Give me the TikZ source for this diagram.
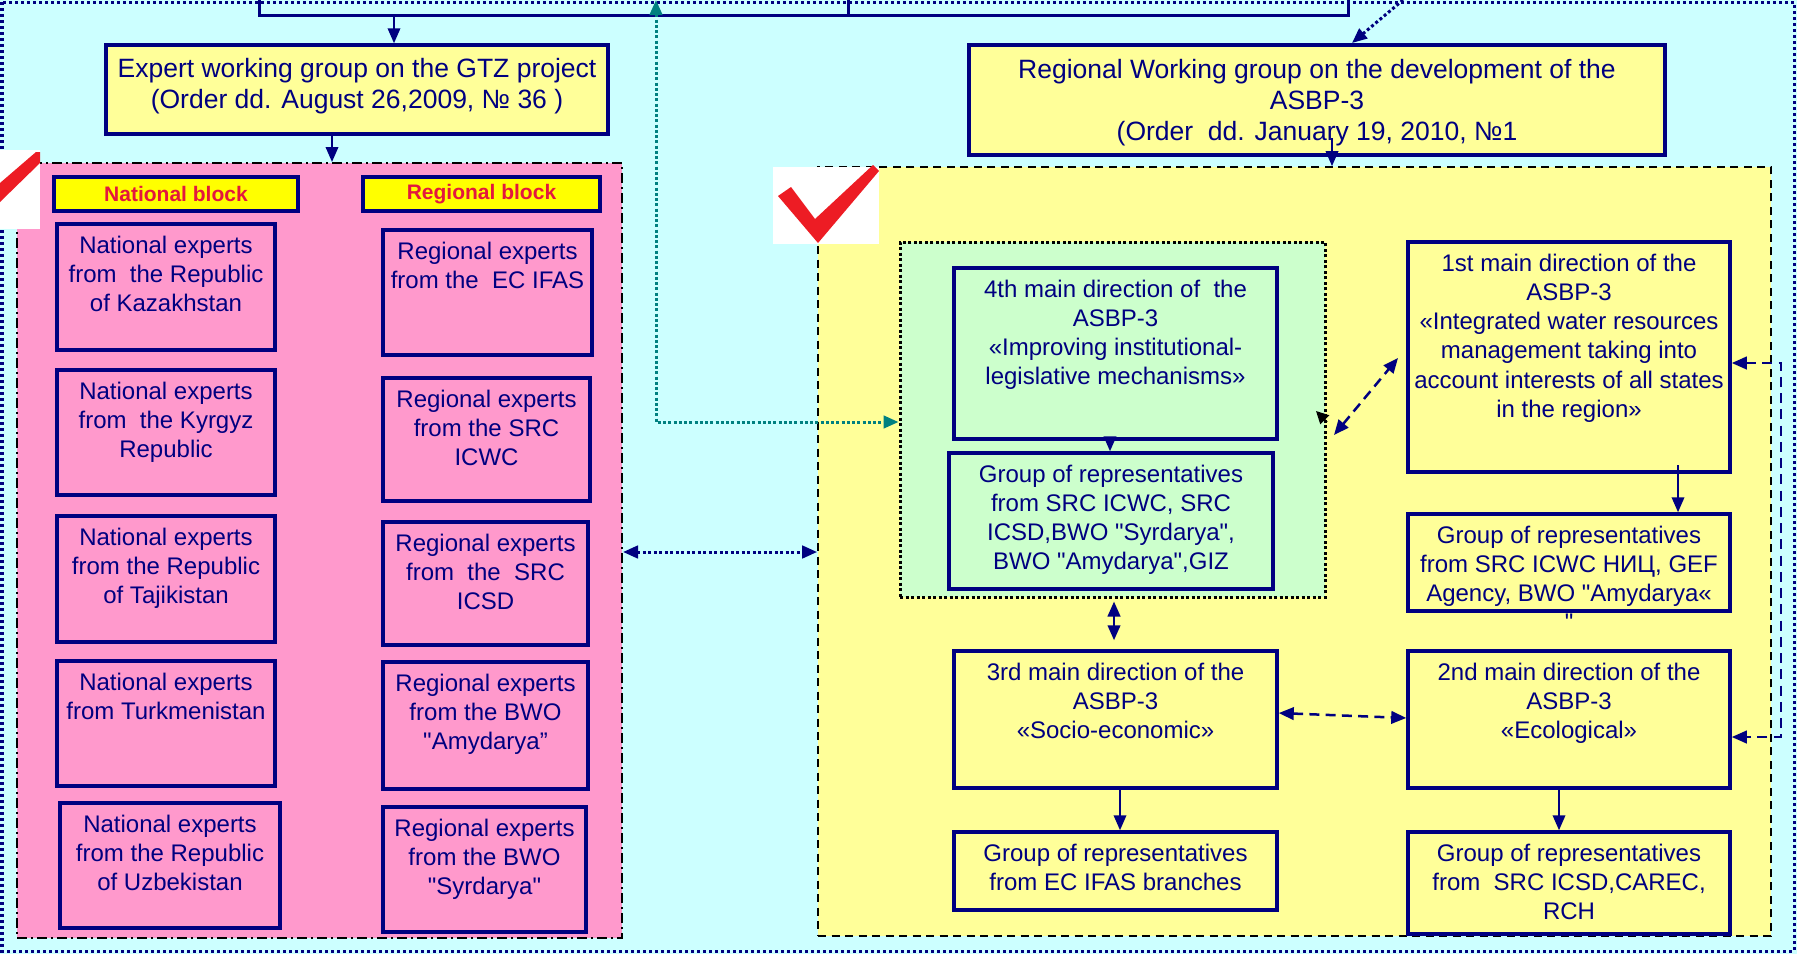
\documentclass[tikz,border=0pt]{standalone}
\usepackage{fontspec}
\setmainfont{Liberation Sans}[Ligatures=TeXOff]
\usetikzlibrary{arrows.meta,fit,calc}
\definecolor{navy}{HTML}{000080}
\definecolor{bgcyan}{HTML}{CCFFFF}
\definecolor{pinkbg}{HTML}{FF99CC}
\definecolor{ylw}{HTML}{FFFF99}
\definecolor{grn}{HTML}{CCFFCC}
\definecolor{lblyellow}{HTML}{FFFF00}
\definecolor{lblred}{HTML}{E3173E}
\definecolor{tealc}{HTML}{008080}
\definecolor{chkred}{HTML}{ED1C24}
\newcommand\bxt[7]{%
  \node[bx, fill=#6, fit={(#2,#3)(#4,#5)}] (#1) {};
  \node[txt, anchor=north] (#1t) at ([yshift=-5.2pt]#1.north) {#7};
}
\begin{document}
\begin{tikzpicture}[x=0.4pt,y=-0.4pt,
  bx/.style={draw=navy, line width=1.4pt, inner sep=0pt},
  txt/.style={text=navy, align=center, inner sep=0pt, font=\fontsize{9.6}{11.7}\selectfont},
  bigtxt/.style={text=navy, align=center, inner sep=0pt, font=\fontsize{10.6}{12.4}\selectfont},
  lbltxt/.style={text=lblred, inner sep=0pt, font=\bfseries\fontsize{8.4}{10}\selectfont},
  lbl/.style={draw=navy, line width=1.4pt, fill=lblyellow, inner sep=0pt},
  arr/.style={navy, line width=0.8pt, -{Triangle[length=6pt,width=5pt]}},
  dtip/.style={{Triangle[length=6pt,width=5pt]}-{Triangle[length=6pt,width=5pt]}},
  dotnavy/.style={navy, line width=1.2pt, dash pattern=on 1.2pt off 1pt},
  dotteal/.style={tealc, line width=1.2pt, dash pattern=on 1.2pt off 0.9pt},
  dashnavy/.style={navy, line width=1pt, dash pattern=on 4pt off 2.5pt},
]
\useasboundingbox (0,0) rectangle (1797,954);
\fill[bgcyan] (0,0) rectangle (1797,954);
\draw[navy, line width=1.2pt, dash pattern=on 1.2pt off 1.2pt] (2,2) rectangle (1794,951);

% big group areas
\node[draw=black, line width=0.8pt, dash pattern=on 4pt off 1.5pt on 1pt off 1.5pt, fill=pinkbg, inner sep=0pt, fit={(17,163)(622,938)}] (pink) {};
\node[draw=black, line width=0.7pt, dash pattern=on 3.2pt off 2.2pt, fill=ylw, inner sep=0pt, fit={(818,167)(1771,936)}] (yellow) {};
\node[draw=black, line width=1.2pt, dash pattern=on 1.2pt off 1pt, fill=grn, inner sep=0pt, fit={(900,242)(1325,597)}] (green) {};

% checkmarks
\fill[white] (0,150) rectangle (40,229);
\fill[chkred] (0,183) -- (36,152) -- (40,152) -- (40,163) -- (0,202) -- cycle;
\fill[white] (773,167) rectangle (879,244);
\fill[chkred] (778,196) -- (791,187) -- (815,219) -- (873,165) -- (879,171) -- (818,243) -- cycle;

% top boxes
\node[bx, fill=ylw, fit={(106,45)(608,134)}] (expert) {};
\node[bigtxt] (expertt) at ([yshift=1.4pt]expert.center) {Expert working group on the GTZ project\\(Order dd. August 26,2009, № 36 )};
\node[bx, fill=ylw, fit={(969,45)(1665,155)}] (regional) {};
\node[bigtxt] (regionalt) at ([yshift=-1.2pt]regional.center) {Regional Working group on the development of the\\ASBP-3\\(Order\ \ dd. January 19, 2010, №1};

% labels
\node[lbl, fit={(54,177)(298,211)}] (natlbl) {};
\node[lbltxt] (natlblt) at (natlbl.center) {National block};
\node[lbl, fit={(363,177)(600,211)}] (reglbl) {};
\node[lbltxt] (reglblt) at (reglbl.center) {Regional block};

% national block
\bxt{nat1}{57}{224}{275}{350}{pinkbg}{National experts\\from\ \ the Republic\\of Kazakhstan}
\bxt{nat2}{57}{370}{275}{495}{pinkbg}{National experts\\from\ \ the Kyrgyz\\Republic}
\bxt{nat3}{57}{516}{275}{642}{pinkbg}{National experts\\from the Republic\\of Tajikistan}
\bxt{nat4}{57}{661}{275}{786}{pinkbg}{National experts\\from Turkmenistan}
\bxt{nat5}{60}{803}{280}{928}{pinkbg}{National experts\\from the Republic\\of Uzbekistan}
% regional block
\bxt{reg1}{383}{230}{592}{355}{pinkbg}{Regional experts\\from the\ \ EC IFAS}
\bxt{reg2}{383}{378}{590}{501}{pinkbg}{Regional experts\\from the SRC\\ICWC}
\bxt{reg3}{383}{522}{588}{645}{pinkbg}{Regional experts\\from\ \ the\ \ SRC\\ICSD}
\bxt{reg4}{383}{662}{588}{789}{pinkbg}{Regional experts\\from the BWO\\"Amydarya”}
\bxt{reg5}{383}{807}{586}{932}{pinkbg}{Regional experts\\from the BWO\\"Syrdarya"}

% ASBP-3 directions
\bxt{fourth}{954}{268}{1277}{439}{grn}{4th main direction of\ \ the\\ASBP-3\\«Improving institutional-\\legislative mechanisms»}
\bxt{groupg}{949}{453}{1273}{589}{grn}{Group of representatives\\from SRC ICWC, SRC\\ICSD,BWO "Syrdarya",\\BWO "Amydarya",GIZ}
\bxt{first}{1408}{242}{1730}{472}{ylw}{1st main direction of the\\ASBP-3\\«Integrated water resources\\management taking into\\account interests of all states\\in the region»}
\bxt{group1}{1408}{514}{1730}{611}{ylw}{Group of representatives\\from SRC ICWC НИЦ, GEF\\Agency, BWO "Amydarya«\\"}
\bxt{third}{954}{651}{1277}{788}{ylw}{3rd main direction of the\\ASBP-3\\«Socio-economic»}
\bxt{second}{1408}{651}{1730}{788}{ylw}{2nd main direction of the\\ASBP-3\\«Ecological»}
\bxt{group3}{954}{832}{1277}{910}{ylw}{Group of representatives\\from EC IFAS branches}
\bxt{group2}{1408}{832}{1730}{934}{ylw}{Group of representatives\\from\ \ SRC ICSD,CAREC,\\RCH}

% coordinates for connectors
\coordinate (ta) at (259,0);
\coordinate (tb) at (848,0);
\coordinate (tc) at (1348,0);
\coordinate (tj) at (848,15);
\coordinate (xe) at (394,15);
\coordinate (xp) at (332,0);
\coordinate (xr) at (1332,138);
\coordinate (tealtop) at (656,0);
\coordinate (tealbend) at (656,422);
\coordinate (dtop) at (1403,0);
\coordinate (dtip) at (1352,43);
\coordinate (ymid) at (0,552);
\coordinate (x4) at (1110,0);
\coordinate (x1) at (1678,465);
\coordinate (x3) at (1120,0);
\coordinate (x2) at (1559,0);
\coordinate (xv) at (1114,0);
\coordinate (ya) at (0,713);
\coordinate (yb) at (0,718);
\coordinate (da1) at (1334,435);
\coordinate (da2) at (1398,358);
\coordinate (rs1) at (1781,363);
\coordinate (rs2) at (1781,737);

% top bracket
\draw[navy, line width=1.2pt] (ta) -- (ta |- xe) -- (tc |- xe) -- (tc);
\draw[navy, line width=1.2pt] (tb) -- (tj);
\draw[arr] (xe) -- (expert.north -| xe);
\draw[arr] (expert.south -| xp) -- (pink.north -| xp);
\draw[arr] (xr) -- (yellow.north -| xr);
\draw[dotnavy, -{Triangle[length=6pt,width=5pt]}] (dtop) -- (dtip);

% teal dotted
\draw[dotteal, {Triangle[length=6pt,width=5pt]}-{Triangle[length=6pt,width=5pt]}] (tealtop) -- (tealbend) -- (green.west |- tealbend);
% pink <-> yellow
\draw[dotnavy, {Triangle[length=6pt,width=5pt]}-{Triangle[length=6pt,width=5pt]}] (pink.east |- ymid) -- (yellow.west |- ymid);

% solid arrows
\draw[arr] (fourth.south -| x4) -- (groupg.north -| x4);
\draw[arr] (x1) -- (group1.north -| x1);
\draw[arr] (third.south -| x3) -- (group3.north -| x3);
\draw[arr] (second.south -| x2) -- (group2.north -| x2);

% dashed links
\draw[dashnavy, dtip] (da1) -- (da2);
\draw[black, line width=0.6pt, -{Triangle[length=5pt,width=5pt]}] (1327,422) -- (1316,411);
\draw[dashnavy, dtip, shorten <=1.2pt, shorten >=3.6pt] (green.south -| xv) -- (third.north -| xv);
\draw[dashnavy, dtip] (third.east |- ya) -- (second.west |- yb);
\draw[dashnavy, dtip] (first.east |- rs1) -- (rs1) -- (rs2) -- (second.east |- rs2);
\end{tikzpicture}
\end{document}
